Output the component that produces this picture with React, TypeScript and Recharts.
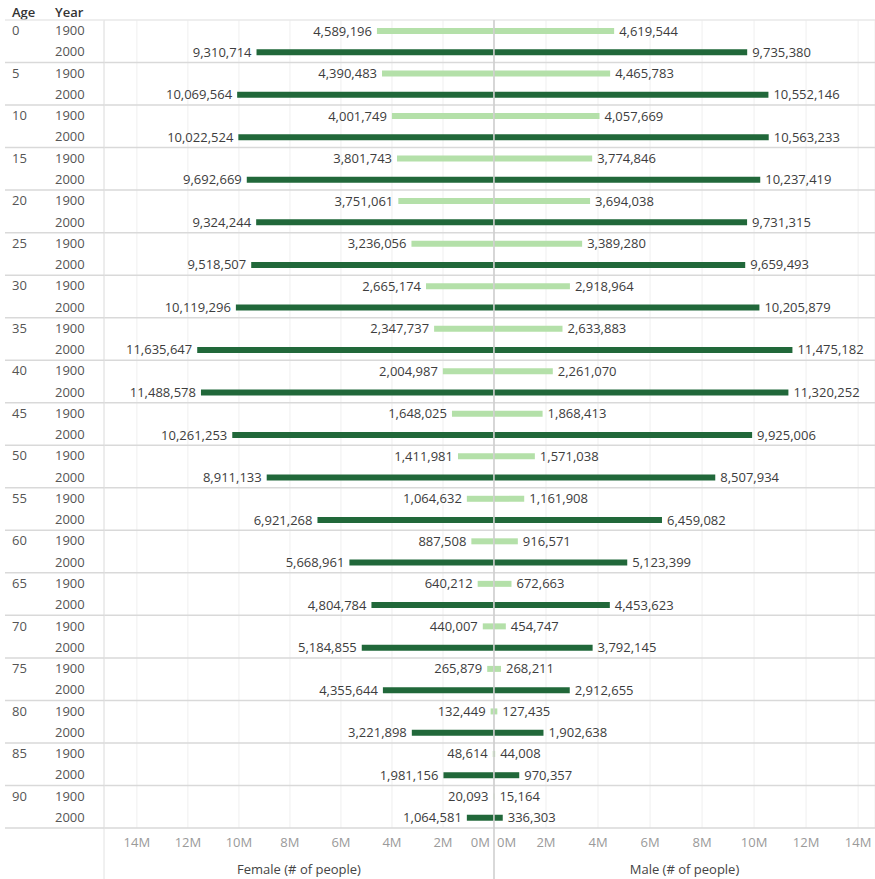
import * as React from 'react';
import { BarChart, Bar, XAxis, YAxis, CartesianGrid, ReferenceLine, LabelList, Cell, Label } from 'recharts';

// population by 5-year age group, 1900 vs 2000
const ages = [0, 5, 10, 15, 20, 25, 30, 35, 40, 45, 50, 55, 60, 65, 70, 75, 80, 85, 90];
const years = [1900, 2000];

const female1900 = [4589196, 4390483, 4001749, 3801743, 3751061, 3236056, 2665174, 2347737, 2004987, 1648025, 1411981, 1064632, 887508, 640212, 440007, 265879, 132449, 48614, 20093];
const female2000 = [9310714, 10069564, 10022524, 9692669, 9324244, 9518507, 10119296, 11635647, 11488578, 10261253, 8911133, 6921268, 5668961, 4804784, 5184855, 4355644, 3221898, 1981156, 1064581];
const male1900 = [4619544, 4465783, 4057669, 3774846, 3694038, 3389280, 2918964, 2633883, 2261070, 1868413, 1571038, 1161908, 916571, 672663, 454747, 268211, 127435, 44008, 15164];
const male2000 = [9735380, 10552146, 10563233, 10237419, 9731315, 9659493, 10205879, 11475182, 11320252, 9925006, 8507934, 6459082, 5123399, 4453623, 3792145, 2912655, 1902638, 970357, 336303];

const axisTicks = [0, 2e6, 4e6, 6e6, 8e6, 10e6, 12e6, 14e6];

const rows = ages.flatMap((age, i) => [
  { key: `${age}-1900`, age, year: years[0], female: female1900[i], male: male1900[i] },
  { key: `${age}-2000`, age, year: years[1], female: female2000[i], male: male2000[i] },
]);

const H = 879;
const TOP = 20;
const AXIS_H = 51;
const HEAD_W = 104;
const LEFT_W = 494;
const RIGHT_W = 381;
const ROW_H = (H - TOP - AXIS_H) / rows.length;

const LIGHT = '#b4e0a9';
const DARK = '#21683a';
const SEP = '#d9d9d9';
const GRID = '#efefef';
const FONT = '"Open Sans", sans-serif';

const fmt = (v: number) => v.toLocaleString('en-US');

const RowTick = (props: any) => {
  const { y, payload } = props;
  const [age, year] = String(payload.value).split('-');
  const first = year === '1900';
  return (
    <g>
      {payload.index === 0 && (
        <g>
          <text x={12} y={y - ROW_H / 2 - 8} dy={4.5} fontSize={13} fontWeight={600} fill="#333">Age</text>
          <text x={55} y={y - ROW_H / 2 - 8} dy={4.5} fontSize={13} fontWeight={600} fill="#333">Year</text>
        </g>
      )}
      {first && <line x1={5} x2={HEAD_W} y1={y - ROW_H / 2} y2={y - ROW_H / 2} stroke={payload.index === 0 ? '#e8e8e8' : SEP} strokeWidth={1.5} />}
      {payload.index === rows.length - 1 && <line x1={5} x2={HEAD_W} y1={y + ROW_H / 2} y2={y + ROW_H / 2} stroke={SEP} strokeWidth={1.5} />}
      {first && <text x={12} y={y} dy={4.5} fontSize={13} fill="#555">{age}</text>}
      <text x={55} y={y} dy={4.5} fontSize={13} fill="#555">{year}</text>
    </g>
  );
};

const makeAxisTick = (side: 'female' | 'male') => (props: any) => {
  const { x, y, payload } = props;
  const v = payload.value as number;
  let anchor: 'middle' | 'end' | 'start' = 'middle';
  let tx = x;
  if (v === 0) {
    anchor = side === 'female' ? 'end' : 'start';
    tx = side === 'female' ? x - 4 : x + 3;
  }
  return (
    <g>
      {/* carry the centre divider and the left border down through the axis band */}
      {v === 0 && side === 'male' && <line x1={x} x2={x} y1={y - 8} y2={y + 45} stroke="#cccccc" strokeWidth={1.5} />}
      {v === 0 && side === 'female' && <line x1={HEAD_W} x2={HEAD_W} y1={y - 8} y2={y + 45} stroke="#e2e2e2" strokeWidth={1} />}
      <text x={tx} y={y} dy={11} textAnchor={anchor} fontSize={13} fill="#9a9a9a">{`${v / 1e6}M`}</text>
    </g>
  );
};

const FemaleValue = (props: any) => {
  const { x, y, width, height, value } = props;
  const left = Math.min(x, x + width);
  return (
    <text x={left - 5} y={y + height / 2} dy={4.5} textAnchor="end" fontSize={13} fill="#3d3d3d">{fmt(value)}</text>
  );
};

const MaleValue = (props: any) => {
  const { x, y, width, height, value } = props;
  const right = Math.max(x, x + width);
  return (
    <text x={right + 5} y={y + height / 2} dy={4.5} textAnchor="start" fontSize={13} fill="#3d3d3d">{fmt(value)}</text>
  );
};

const separators = () => [
  ...ages.map((age, i) => (
    <ReferenceLine key={`s${age}`} y={`${age}-1900`} position="start" stroke={i === 0 ? '#e8e8e8' : SEP} strokeWidth={1.5} />
  )),
  <ReferenceLine key="send" y={`${ages[ages.length - 1]}-2000`} position="end" stroke={SEP} strokeWidth={1.5} />,
];

export default function App() {
  return (
    <div style={{ position: 'absolute', left: 0, top: 0, width: 875, height: H, fontFamily: FONT, background: '#fff' }}>
      <div style={{ position: 'absolute', left: 0, top: 0 }}>
        <BarChart width={LEFT_W} height={H} data={rows} layout="vertical" margin={{ top: TOP, right: 0, bottom: 0, left: 0 }}>
          <CartesianGrid horizontal={false} vertical stroke={GRID} />
          <XAxis
            type="number"
            dataKey="female"
            reversed
            domain={[0, 15.29e6]}
            ticks={axisTicks}
            height={AXIS_H}
            axisLine={false}
            tickLine={false}
            tick={makeAxisTick('female')}
            interval={0}
          >
            <Label value="Female (# of people)" position="insideBottom" offset={5} fontSize={13} fill="#444" />
          </XAxis>
          <YAxis
            type="category"
            dataKey="key"
            width={HEAD_W}
            interval={0}
            tickLine={false}
            axisLine={{ stroke: '#e2e2e2' }}
            tick={<RowTick />}
          />
          {separators()}
          <Bar dataKey="female" barSize={6} isAnimationActive={false}>
            {rows.map((r) => (
              <Cell key={r.key} fill={r.year === 1900 ? LIGHT : DARK} />
            ))}
            <LabelList dataKey="female" content={<FemaleValue />} />
          </Bar>
        </BarChart>
      </div>
      <div style={{ position: 'absolute', left: LEFT_W - 10, top: 0 }}>
        <BarChart width={RIGHT_W + 10} height={H} data={rows} layout="vertical" margin={{ top: TOP, right: 0, bottom: 0, left: 10 }}>
          <CartesianGrid horizontal={false} vertical stroke={GRID} />
          <XAxis
            type="number"
            dataKey="male"
            domain={[0, 14.65e6]}
            ticks={axisTicks}
            height={AXIS_H}
            axisLine={false}
            tickLine={false}
            tick={makeAxisTick('male')}
            interval={0}
          >
            <Label value="Male (# of people)" position="insideBottom" offset={5} fontSize={13} fill="#444" />
          </XAxis>
          <YAxis type="category" dataKey="key" hide />
          {separators()}
          <ReferenceLine x={0} stroke="#cccccc" strokeWidth={1.5} />
          <Bar dataKey="male" barSize={6} isAnimationActive={false}>
            {rows.map((r) => (
              <Cell key={r.key} fill={r.year === 1900 ? LIGHT : DARK} />
            ))}
            <LabelList dataKey="male" content={<MaleValue />} />
          </Bar>
        </BarChart>
      </div>
    </div>
  );
}
